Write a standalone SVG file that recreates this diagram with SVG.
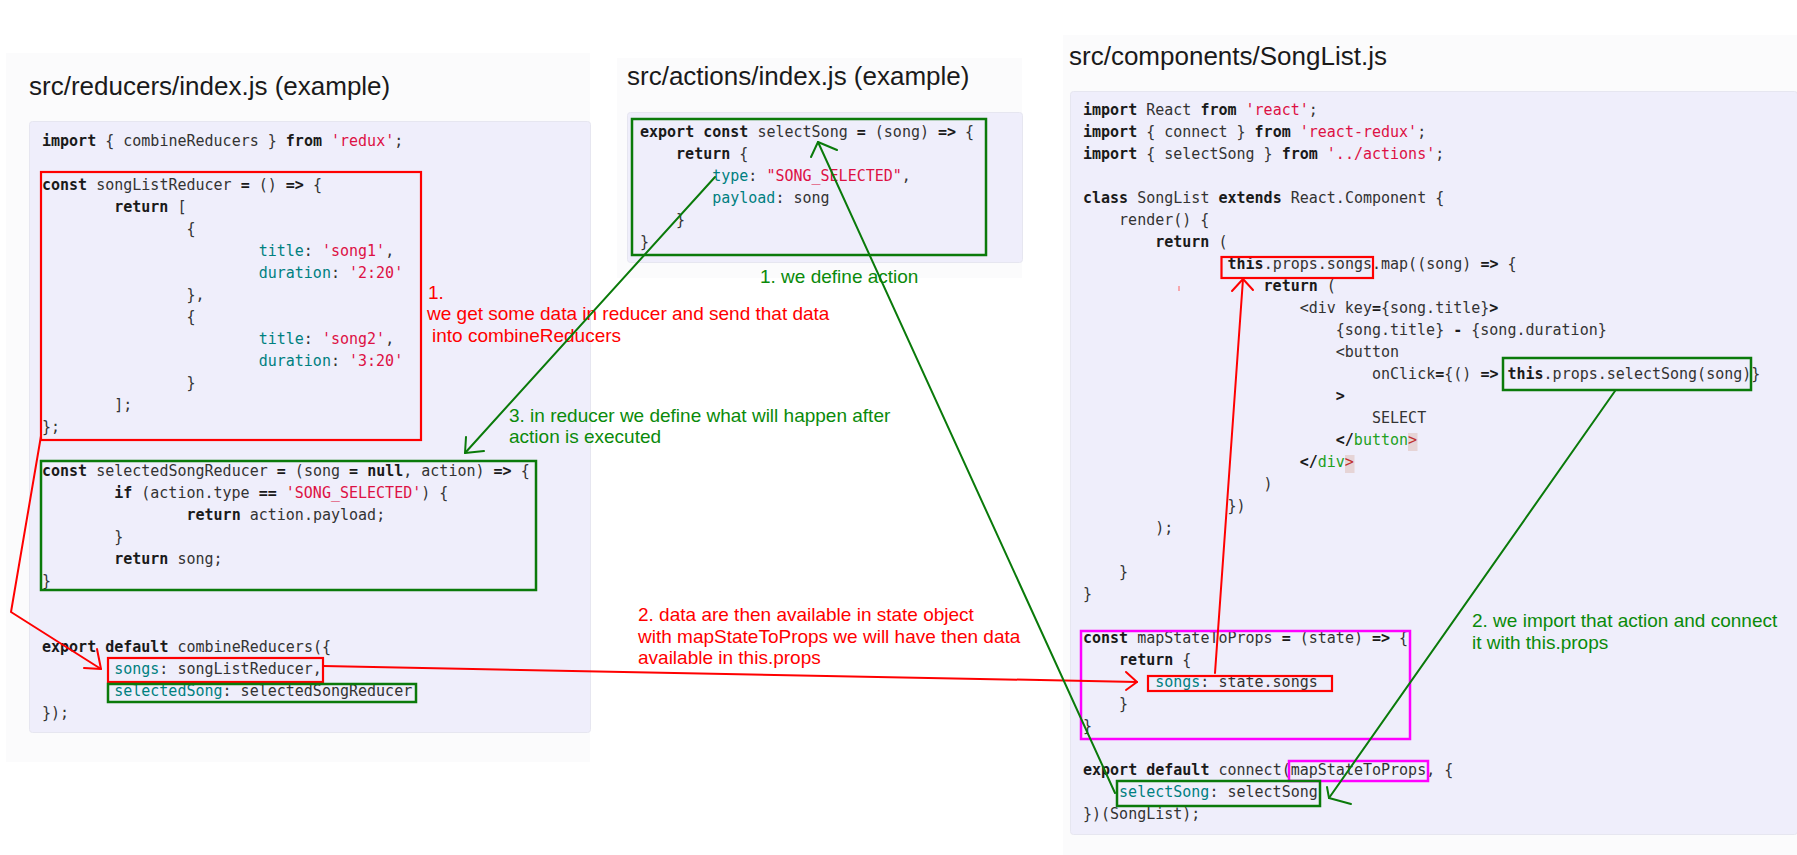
<svg xmlns="http://www.w3.org/2000/svg" width="1797" height="855" viewBox="0 0 1797 855">
<style>
.bgp{fill:#fbfbfc}
.cp{fill:#efeefb;stroke:#e6e6f0;stroke-width:1}
.title{font-family:"Liberation Sans",Arial,sans-serif;font-size:26px;fill:#1a1a1a}
.c{font-family:"DejaVu Sans Mono","Liberation Mono",monospace;font-size:15px;fill:#333;white-space:pre}
.k{font-weight:bold;fill:#1a1a1a}
.s{fill:#dd1144}
.a{fill:#008080}
.t{fill:#22a022}
.r{fill:#c03030}
.hl{fill:#e6d4d6}
.nr{font-family:"Liberation Sans",Arial,sans-serif;font-size:19px;fill:#ff0000}
.ng{font-family:"Liberation Sans",Arial,sans-serif;font-size:19px;fill:#0a8a0a}
.rb{fill:none;stroke:#ff0000;stroke-width:2.2}
.gb{fill:none;stroke:#0a7a0a;stroke-width:2.5}
.mb{fill:none;stroke:#ff00ff;stroke-width:2.5}
.lr{fill:none;stroke:#ff0000;stroke-width:2;stroke-linecap:round;stroke-linejoin:round}
.lg{fill:none;stroke:#0a7a0a;stroke-width:2;stroke-linecap:round;stroke-linejoin:round}
</style>
<rect width="1797" height="855" fill="#ffffff"/>

<g id="panel-reducers">
<rect class="bgp" x="6" y="53" width="584" height="709"/>
<text class="title" x="29" y="95">src/reducers/index.js (example)</text>
<rect class="cp" x="29.5" y="121.5" width="561" height="611" rx="3"/>
<text class="c" x="42" y="146"><tspan class="k">import</tspan> { combineReducers } <tspan class="k">from</tspan> <tspan class="s">'redux'</tspan>;</text>
<text class="c" x="42" y="190"><tspan class="k">const</tspan> songListReducer <tspan class="k">=</tspan> () <tspan class="k">=&gt;</tspan> {</text>
<text class="c" x="114.2" y="212"><tspan class="k">return</tspan> [</text>
<text class="c" x="186.5" y="234">{</text>
<text class="c" x="258.7" y="256"><tspan class="a">title</tspan>: <tspan class="s">'song1'</tspan>,</text>
<text class="c" x="258.7" y="278"><tspan class="a">duration</tspan>: <tspan class="s">'2:20'</tspan></text>
<text class="c" x="186.5" y="300">},</text>
<text class="c" x="186.5" y="322">{</text>
<text class="c" x="258.7" y="344"><tspan class="a">title</tspan>: <tspan class="s">'song2'</tspan>,</text>
<text class="c" x="258.7" y="366"><tspan class="a">duration</tspan>: <tspan class="s">'3:20'</tspan></text>
<text class="c" x="186.5" y="388">}</text>
<text class="c" x="114.2" y="410">];</text>
<text class="c" x="42" y="432">};</text>
<text class="c" x="42" y="476"><tspan class="k">const</tspan> selectedSongReducer <tspan class="k">=</tspan> (song <tspan class="k">=</tspan> <tspan class="k">null</tspan>, action) <tspan class="k">=&gt;</tspan> {</text>
<text class="c" x="114.2" y="498"><tspan class="k">if</tspan> (action.type <tspan class="k">==</tspan> <tspan class="s">'SONG_SELECTED'</tspan>) {</text>
<text class="c" x="186.5" y="520"><tspan class="k">return</tspan> action.payload;</text>
<text class="c" x="114.2" y="542">}</text>
<text class="c" x="114.2" y="564"><tspan class="k">return</tspan> song;</text>
<text class="c" x="42" y="586">}</text>
<text class="c" x="42" y="652"><tspan class="k">export</tspan> <tspan class="k">default</tspan> combineReducers({</text>
<text class="c" x="114.2" y="674"><tspan class="a">songs</tspan>: songListReducer,</text>
<text class="c" x="114.2" y="696"><tspan class="a">selectedSong</tspan>: selectedSongReducer</text>
<text class="c" x="42" y="718">});</text>
<rect class="rb" x="41" y="172" width="380" height="268"/>
<rect class="gb" x="41" y="461" width="495" height="129"/>
<rect class="rb" x="108" y="658" width="215" height="24"/>
<rect class="gb" x="108" y="684" width="308" height="18"/>
</g>

<g id="panel-actions">
<rect class="bgp" x="617" y="58" width="405" height="220"/>
<text class="title" x="627" y="85">src/actions/index.js (example)</text>
<rect class="cp" x="627.5" y="112.5" width="395" height="150" rx="3"/>
<text class="c" x="640" y="137"><tspan class="k">export</tspan> <tspan class="k">const</tspan> selectSong <tspan class="k">=</tspan> (song) <tspan class="k">=&gt;</tspan> {</text>
<text class="c" x="676.1" y="159"><tspan class="k">return</tspan> {</text>
<text class="c" x="712.2" y="181"><tspan class="a">type</tspan>: <tspan class="s">"SONG_SELECTED"</tspan>,</text>
<text class="c" x="712.2" y="203"><tspan class="a">payload</tspan>: song</text>
<text class="c" x="676.1" y="225">}</text>
<text class="c" x="640" y="247">}</text>
<rect class="gb" x="632" y="119" width="354" height="136"/>
</g>

<g id="panel-songlist">
<rect class="bgp" x="1063" y="35" width="734" height="820"/>
<text class="title" x="1069" y="65">src/components/SongList.js</text>
<rect class="cp" x="1070.5" y="91.5" width="727" height="743" rx="3"/>
<rect class="hl" x="1408" y="433" width="9.5" height="18"/>
<rect class="hl" x="1345" y="455" width="9.5" height="18"/>
<text class="c" x="1083" y="115"><tspan class="k">import</tspan> React <tspan class="k">from</tspan> <tspan class="s">'react'</tspan>;</text>
<text class="c" x="1083" y="137"><tspan class="k">import</tspan> { connect } <tspan class="k">from</tspan> <tspan class="s">'react-redux'</tspan>;</text>
<text class="c" x="1083" y="159"><tspan class="k">import</tspan> { selectSong } <tspan class="k">from</tspan> <tspan class="s">'../actions'</tspan>;</text>
<text class="c" x="1083" y="203"><tspan class="k">class</tspan> SongList <tspan class="k">extends</tspan> React.Component {</text>
<text class="c" x="1119.1" y="225">render() {</text>
<text class="c" x="1155.2" y="247"><tspan class="k">return</tspan> (</text>
<text class="c" x="1227.5" y="269"><tspan class="k">this</tspan>.props.songs.map((song) <tspan class="k">=&gt;</tspan> {</text>
<text class="c" x="1263.6" y="291"><tspan class="k">return</tspan> (</text>
<text class="c" x="1299.7" y="313">&lt;div key<tspan class="k">=</tspan>{song.title}<tspan class="k">&gt;</tspan></text>
<text class="c" x="1335.8" y="335">{song.title} <tspan class="k">-</tspan> {song.duration}</text>
<text class="c" x="1335.8" y="357">&lt;button</text>
<text class="c" x="1372" y="379">onClick<tspan class="k">=</tspan>{() <tspan class="k">=&gt;</tspan> <tspan class="k">this</tspan>.props.selectSong(song)}</text>
<text class="c" x="1335.8" y="401"><tspan class="k">&gt;</tspan></text>
<text class="c" x="1372" y="423">SELECT</text>
<text class="c" x="1335.8" y="445"><tspan class="k">&lt;/</tspan><tspan class="t">button</tspan><tspan class="r">&gt;</tspan></text>
<text class="c" x="1299.7" y="467"><tspan class="k">&lt;/</tspan><tspan class="t">div</tspan><tspan class="r">&gt;</tspan></text>
<text class="c" x="1263.6" y="489">)</text>
<text class="c" x="1227.5" y="511">})</text>
<text class="c" x="1155.2" y="533">);</text>
<text class="c" x="1119.1" y="577">}</text>
<text class="c" x="1083" y="599">}</text>
<text class="c" x="1083" y="643"><tspan class="k">const</tspan> mapStateToProps <tspan class="k">=</tspan> (state) <tspan class="k">=&gt;</tspan> {</text>
<text class="c" x="1119.1" y="665"><tspan class="k">return</tspan> {</text>
<text class="c" x="1155.2" y="687"><tspan class="a">songs</tspan>: state.songs</text>
<text class="c" x="1119.1" y="709">}</text>
<text class="c" x="1083" y="731">}</text>
<text class="c" x="1083" y="775"><tspan class="k">export</tspan> <tspan class="k">default</tspan> connect(mapStateToProps, {</text>
<text class="c" x="1119.1" y="797"><tspan class="a">selectSong</tspan>: selectSong</text>
<text class="c" x="1083" y="819">})(SongList);</text>
<rect class="rb" x="1221.5" y="257" width="151.5" height="21"/>
<rect class="gb" x="1503" y="358" width="248" height="32"/>
<rect class="mb" x="1081" y="631" width="329" height="108"/>
<rect class="rb" x="1148" y="676" width="184" height="15"/>
<rect class="mb" x="1289" y="761" width="139" height="20"/>
<rect class="gb" x="1117" y="781" width="203" height="25"/>
<line x1="1179" y1="286" x2="1179" y2="291" stroke="#ff6060" stroke-width="1"/>
</g>

<g id="labels">
<text class="nr" x="428" y="299">1.</text>
<text class="nr" x="427" y="320">we get some data in reducer and send that data</text>
<text class="nr" x="432" y="342">into combineReducers</text>
<text class="ng" x="760" y="283">1. we define action</text>
<text class="ng" x="509" y="422">3. in reducer we define what will happen after</text>
<text class="ng" x="509" y="443">action is executed</text>
<text class="nr" x="638" y="621">2. data are then available in state object</text>
<text class="nr" x="638" y="643">with mapStateToProps we will have then data</text>
<text class="nr" x="638" y="664">available in this.props</text>
<text class="ng" x="1472" y="627">2. we import that action and connect</text>
<text class="ng" x="1472" y="649">it with this.props</text>
</g>

<g id="connectors">
<polyline class="lr" points="41,436 11,612 101,669"/>
<polyline class="lr" points="97,649 101,669 84,668"/>
<line class="lr" x1="323" y1="666" x2="1137" y2="682"/>
<polyline class="lr" points="1126,672 1137,682 1126,690"/>
<line class="lr" x1="1215" y1="673" x2="1243" y2="279"/>
<polyline class="lr" points="1232,291 1243,279 1253,290"/>
<line class="lg" x1="715" y1="177" x2="465" y2="453"/>
<polyline class="lg" points="466,437 465,453 484,451"/>
<line class="lg" x1="1115" y1="793" x2="818" y2="142"/>
<polyline class="lg" points="811,157 818,142 837,150"/>
<line class="lg" x1="1615" y1="391" x2="1329" y2="798"/>
<polyline class="lg" points="1327,787 1329,798 1351,804"/>
</g>
</svg>
